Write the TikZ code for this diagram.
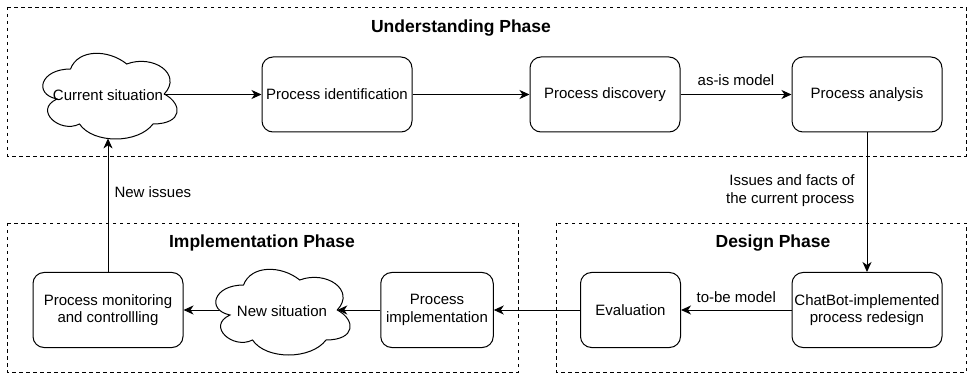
\documentclass[tikz,border=0pt]{standalone}
\usepackage{fontspec}
\setmainfont{Liberation Sans}
\usetikzlibrary{arrows.meta}
\tikzset{
  % cloud outline drawn in a unit cell (x to the right, y downwards)
  pics/dcloud/.style={code={
    \draw[cloudline] (0.25,0.25) .. controls (0.05,0.25) and (0,0.5) .. (0.16,0.55)
      .. controls (0,0.66) and (0.18,0.9) .. (0.31,0.8)
      .. controls (0.4,1) and (0.7,1) .. (0.8,0.8)
      .. controls (1,0.8) and (1,0.6) .. (0.875,0.5)
      .. controls (1,0.3) and (0.8,0.1) .. (0.625,0.2)
      .. controls (0.5,0.05) and (0.3,0.05) .. (0.25,0.25) -- cycle;
    \coordinate (-w) at (0.0887,0.5);
    \coordinate (-e) at (0.875,0.5);
    \coordinate (-s) at (0.5,0.944);
  }}
}
\begin{document}
\begin{tikzpicture}[x=1pt,y=-1pt,
  txt/.style={font=\fontsize{15}{17.5}\selectfont},
  proc/.style={draw,line width=1pt,rounded corners=11pt,minimum width=150pt,minimum height=75pt,align=center,txt,inner sep=1pt},
  cloudline/.style={line width=1pt},
  phase/.style={draw,dash pattern=on 3.5pt off 3.5pt,line width=0.85pt},
  phasetitle/.style={font=\bfseries\fontsize{17.5}{20}\selectfont},
  lbl/.style={txt,align=right,inner sep=0pt},
  flow/.style={line width=1pt,-{Stealth[length=10pt,width=9pt,inset=3pt]}}]
\useasboundingbox (0,0) rectangle (967,374);
% phase frames
\draw[phase] (7,7) rectangle (966,156);
\draw[phase] (7,223) rectangle (518,372);
\draw[phase] (556,223) rectangle (966,372);
\node[phasetitle] (tund) at (461,28) {Understanding Phase};
\node[phasetitle] (timp) at (262,243) {Implementation Phase};
\node[phasetitle] (tdes) at (773,243) {Design Phase};
% understanding phase
\begin{scope}[shift={(33,44)},x=150pt,y=-100pt]
  \pic (cur) at (0,0) {dcloud};
\end{scope}
\node[txt] (curtxt) at (108,95.5) {Current situation};
\node[proc] (pid) at (337,94.5) {Process identification};
\node[proc] (pdis) at (605,94.5) {Process discovery};
\node[proc] (pana) at (867,94.5) {Process analysis};
% design phase
\node[proc] (redes) at (867,310) {ChatBot-implemented\\process redesign};
\node[proc,minimum width=100pt] (eval) at (630.5,310) {Evaluation};
% implementation phase
\node[proc,minimum width=112.5pt] (pimp) at (437,310) {Process\\implementation};
\begin{scope}[shift={(206,260)},x=150pt,y=-100pt]
  \pic (newsit) at (0,0) {dcloud};
\end{scope}
\node[txt] (newtxt) at (282,311) {New situation};
\node[proc] (pmon) at (108,310) {Process monitoring\\and controllling};
% connectors
\draw[flow] (cur-e |- pid.west) -- (pid.west);
\draw[flow] (pid) -- (pdis);
\draw[flow] (pdis) -- node[above=8pt,lbl] (asis) {as-is model} (pana);
\draw[flow] (pana) -- node[left=12pt,lbl,pos=0.415] (facts) {Issues and facts of\\the current process} (redes);
\draw[flow] (redes) -- node[above=7pt,lbl] (tobe) {to-be model} (eval);
\draw[flow] (eval) -- (pimp);
\draw[flow] (pimp.west) -- (newsit-e);
\draw[flow] (newsit-w) -- (pmon.east);
\draw[flow] (pmon.north) -- node[right=6pt,pos=0.6,lbl] (newiss) {New issues} (cur-s);
\end{tikzpicture}
\end{document}
